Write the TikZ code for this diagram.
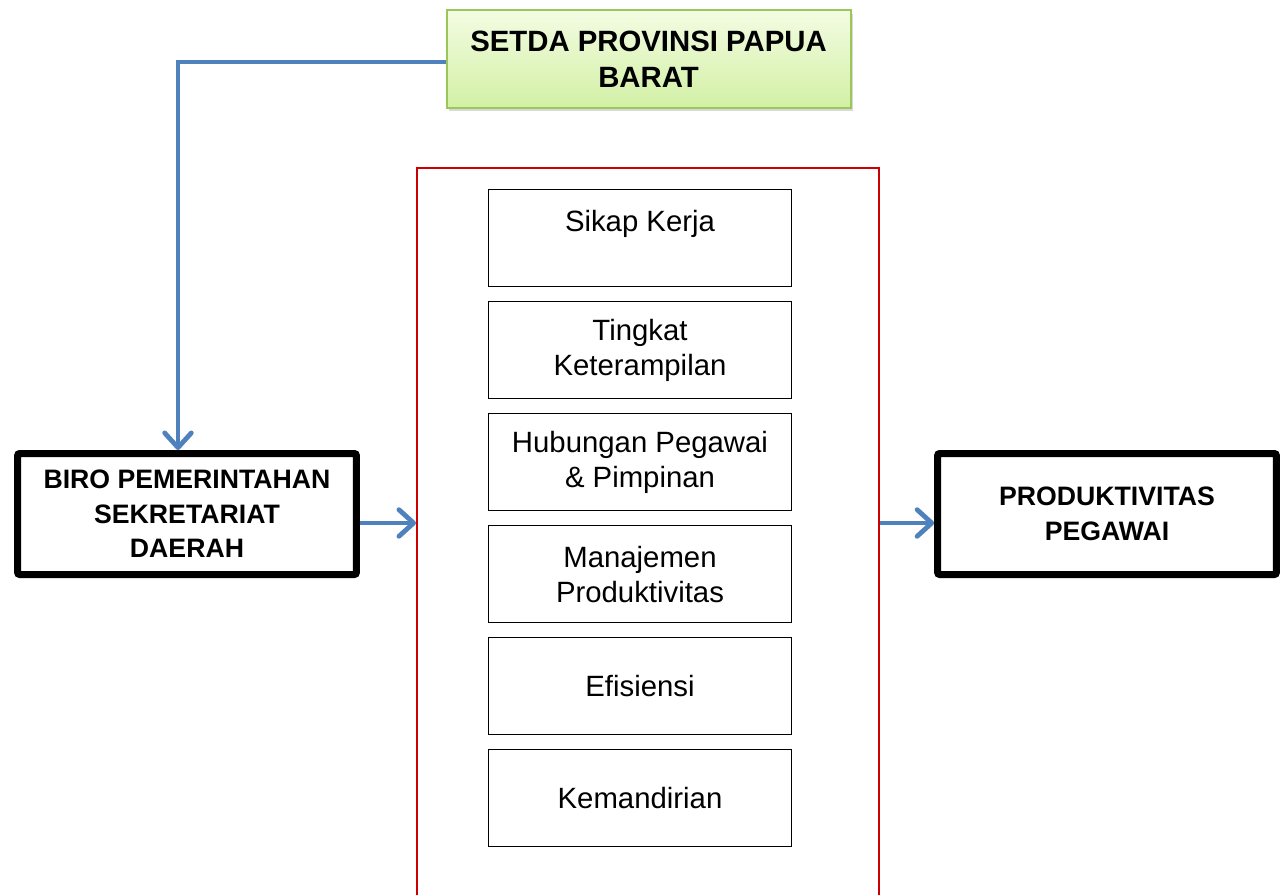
\documentclass[tikz,border=0pt]{standalone}
\usepackage{fontspec}
\setmainfont{Liberation Sans}
\usepackage{xcolor}
\usetikzlibrary{arrows.meta, positioning, shadows}

\definecolor{linkblue}{RGB}{79,129,189}
\definecolor{framered}{RGB}{204,0,0}
\definecolor{greenedge}{RGB}{155,199,90}
\definecolor{greentop}{RGB}{243,252,226}
\definecolor{greenbot}{RGB}{210,240,165}

\tikzset{
  headbox/.style={draw=greenedge, line width=1.5pt, top color=greentop, bottom color=greenbot,
    minimum width=303pt, minimum height=73pt, align=center,
    font=\fontsize{22}{27}\selectfont\bfseries,
    drop shadow={opacity=0.3, shadow xshift=2pt, shadow yshift=-2.5pt}},
  mainbox/.style={draw, line width=5.25pt, rounded corners=1.5pt, fill=white,
    minimum width=254pt, minimum height=90.75pt, align=center,
    font=\fontsize{20}{26}\selectfont\bfseries,
    drop shadow={opacity=0.2, shadow xshift=1.5pt, shadow yshift=-1.5pt}},
  factorbox/.style={draw, line width=0.8pt, fill=white, minimum width=227pt,
    minimum height=72.75pt, align=center, font=\fontsize{22}{26}\selectfont},
  framebox/.style={draw=framered, line width=1.5pt, minimum width=346.5pt, minimum height=556.5pt},
  link/.style={->, draw=linkblue, line width=3.6pt,
    >={Straight Barb[length=11pt, width=20pt, round]}}
}

\begin{document}
\begin{tikzpicture}[x=0.75pt, y=-0.75pt, node distance=10.5pt]
    \useasboundingbox (0,0) rectangle (1286,895);
    \clip (0,0) rectangle (1286,895);

    % Nodes
    \node[headbox] (setda) at (648.5,59) {SETDA PROVINSI PAPUA\\BARAT};
    \node[mainbox] (biro) at (187,514) {BIRO PEMERINTAHAN\\SEKRETARIAT\\DAERAH};
    \node[mainbox] (prod) at (1107,514) {PRODUKTIVITAS\\PEGAWAI};
    \node[framebox] (frame) at (648,539) {};

    \node[factorbox, below=16.5pt of frame.north, xshift=-6pt] (sikap) {Sikap Kerja\\\mbox{}};
    \node[factorbox, below=of sikap] (terampil) {Tingkat\\Keterampilan};
    \node[factorbox, below=of terampil] (hubungan) {Hubungan Pegawai\\\& Pimpinan};
    \node[factorbox, below=of hubungan] (manajemen) {Manajemen\\Produktivitas};
    \node[factorbox, below=of manajemen] (efisiensi) {Efisiensi};
    \node[factorbox, below=of efisiensi] (mandiri) {Kemandirian};

    % Edges
    \draw[link] ([yshift=-2.25pt]setda.west) -| ([xshift=-6.75pt]biro.north);
    \draw[link] ([yshift=-6.75pt]biro.east) -- ([yshift=-6.75pt]biro.east -| frame.west);
    \draw[link] ([yshift=-6.75pt]prod.west -| frame.east) -- ([yshift=-6.75pt]prod.west);
\end{tikzpicture}
\end{document}
